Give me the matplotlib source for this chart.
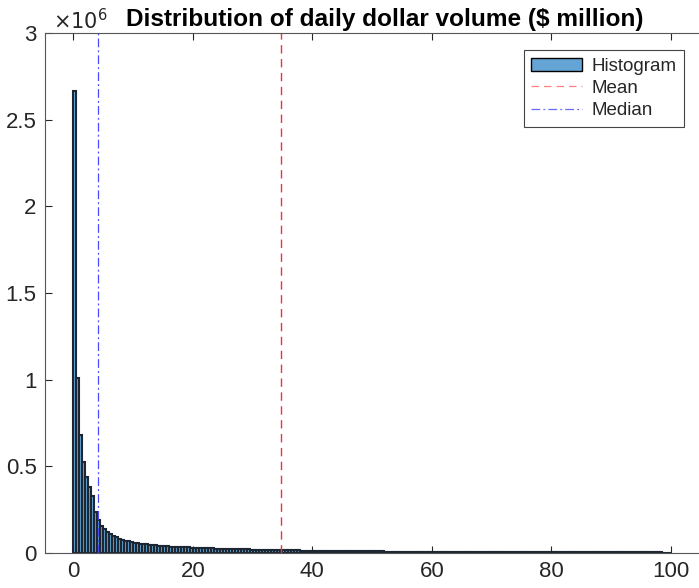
import numpy as np
import matplotlib
matplotlib.use("Agg")
import matplotlib.pyplot as plt
from matplotlib.ticker import FuncFormatter
from matplotlib.patches import Patch
from matplotlib.lines import Line2D

plt.rcParams['font.family'] = ['Liberation Sans', 'DejaVu Sans']

# histogram of daily dollar volume, 0.5 $M bins from 0 to 100
bin_width = 0.5
counts_k = [
    2665, 1010, 680, 527, 440, 380, 328, 238, 190, 158,
    138, 123, 110, 99, 90, 83, 77, 72, 68, 64,
    60, 57, 54, 52, 50, 48, 46, 44, 42.5, 41,
    39.5, 38.5, 37.5, 36.5, 35.5, 34.5, 33.5, 32.5, 31.8, 31,
    30, 29.3, 28.6, 28, 27.4, 26.8, 26.2, 25.6, 25, 24.5,
    24, 23.5, 23, 22.5, 22, 21.6, 21.2, 20.8, 20.4, 20,
    19.6, 19.2, 18.8, 18.4, 18, 17.6, 17.3, 17, 16.7, 16.4,
    16.1, 15.8, 15.5, 15.2, 14.9, 14.6, 14.3, 14, 13.7, 13.4,
    13.1, 12.8, 12.6, 12.4, 12.2, 12, 11.8, 11.6, 11.4, 11.2,
    11, 10.8, 10.6, 10.4, 10.2, 10, 9.8, 9.6, 9.5, 9.4,
    9.2, 9.0, 8.9, 8.8, 8.6, 8.5, 8.4, 8.2, 8.1, 8.0,
    7.9, 7.8, 7.7, 7.6, 7.5, 7.4, 7.3, 7.2, 7.1, 7.0,
    6.9, 6.8, 6.7, 6.6, 6.5, 6.4, 6.35, 6.3, 6.2, 6.1,
    6.0, 5.95, 5.9, 5.8, 5.7, 5.65, 5.6, 5.5, 5.45, 5.4,
    5.3, 5.25, 5.2, 5.15, 5.1, 5.0, 4.95, 4.9, 4.85, 4.8,
    4.75, 4.7, 4.65, 4.6, 4.55, 4.5, 4.45, 4.4, 4.35, 4.3,
    4.25, 4.2, 4.15, 4.1, 4.05, 4.0, 3.95, 3.9, 3.86, 3.82,
    3.78, 3.74, 3.7, 3.66, 3.62, 3.58, 3.54, 3.5, 3.46, 3.42,
    3.38, 3.35, 3.32, 3.29, 3.26, 3.23, 3.2, 3.17, 3.14, 3.11,
    3.08, 3.05, 3.02, 2.99, 2.96, 2.93, 2.9, 2.87, 2.84, 2.81,
]
mean_val = 34.8
median_val = 4.1

counts = np.array(counts_k) * 1e3
edges = np.arange(len(counts)) * bin_width

fig = plt.figure(figsize=(6.99, 5.88), dpi=100)
# axes runs a little past the right edge of the canvas
ax = fig.add_axes([45 / 699, 35 / 588, 680 / 699, 520 / 588])

face = (0.0, 0.447, 0.741, 0.6)
ax.bar(edges, counts, width=bin_width, align='edge', color=face,
       edgecolor='#1c2733', linewidth=1.5)
ax.axvline(mean_val, color='#f03040', linestyle=(0, (6, 4)), linewidth=1.0)
ax.axvline(median_val, color='#4a4aff', linestyle=(0, (7, 2.5, 1.5, 2.5)), linewidth=0.9)

ax.set_xlim(-4.77, 109.1)
ax.set_ylim(0, 3e6)
ax.set_xticks([0, 20, 40, 60, 80, 100])
ax.set_yticks(np.arange(0, 3.01e6, 0.5e6))
ax.yaxis.set_major_formatter(FuncFormatter(lambda v, p: f"{v / 1e6:g}"))

gray = '#262626'
ax.tick_params(direction='in', length=5, width=0.8, labelsize=16,
               colors=gray, labelcolor=gray, top=True, right=True, pad=6)
for s in ax.spines.values():
    s.set_color('#555555')
    s.set_linewidth(0.8)

ax.text(0.012, 1.0, r'$\times10^{6}$', transform=ax.transAxes,
        fontsize=15, color=gray, ha='left', va='bottom')
ax.set_title('Distribution of daily dollar volume ($ million)',
             fontsize=17.6, fontweight='bold', color='black', pad=5)

handles = [
    Patch(facecolor='#64a5d6', edgecolor='black', linewidth=1.0),
    Line2D([0], [0], color='#ff8080', linestyle=(0, (6, 4)), linewidth=0.9),
    Line2D([0], [0], color='#6a6aff', linestyle=(0, (7, 2.5, 1.5, 2.5)), linewidth=0.9),
]
leg = ax.legend(handles, ['Histogram', 'Mean', 'Median'], loc='upper right',
                bbox_to_anchor=(684 / 699, 1 - 50 / 588),
                bbox_transform=fig.transFigure, borderaxespad=0,
                fontsize=13.5, handlelength=2.7, handletextpad=0.5,
                labelspacing=0.28, borderpad=0.4, fancybox=False,
                framealpha=1, edgecolor='#444444')
leg.get_frame().set_linewidth(0.8)
for t in leg.get_texts():
    t.set_color(gray)

fig.savefig('out.png', dpi=100)
